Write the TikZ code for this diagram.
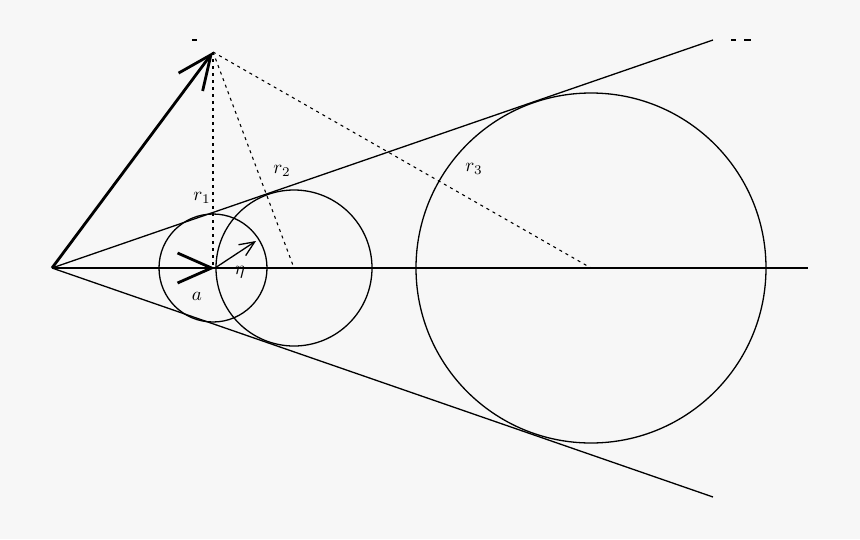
\documentclass[tikz,border=0pt]{standalone}
\usepackage{graphicx}
\usetikzlibrary{arrows.meta}
\tikzset{
  thinline/.style={line width=1.3pt},
  thickarrow/.style={line width=2.8pt,-{Straight Barb[length=34pt,width=30pt,line width=2.8pt]}},
  dotline/.style={line width=1.1pt,dash pattern=on 3pt off 4pt},
  mylabel/.style={inner sep=0pt}}
\newcommand{\biglab}[1]{\scalebox{1.9}{$#1$}}
\begin{document}
\begin{tikzpicture}[x=1pt,y=-1pt]
\fill[white!97!black] (0,0) rectangle (860,539);
\useasboundingbox (0,0) rectangle (860,539);
\coordinate (O) at (52,268);
\coordinate (P) at (213,52);
\coordinate (A) at (215,268);
\coordinate (C1) at (213,268);
\coordinate (C2) at (294,268);
\coordinate (C3) at (591,268);
\coordinate (E) at (808,268);
\coordinate (T1) at (713,40);
\coordinate (T2) at (713,497);
\coordinate (H) at (256,241);
\draw[thinline] (O) -- (E);
\draw[thinline] (O) -- (T1);
\draw[thinline] (O) -- (T2);
\draw[thinline] (C1) circle (54);
\draw[thinline] (C2) circle (78);
\draw[thinline] (C3) circle (175);
\draw[dotline] (P) -- (C1);
\draw[dotline] (P) -- (C2);
\draw[dotline] (P) -- (C3);
\draw[thickarrow] (O) -- (P);
\draw[thickarrow] (O) -- (A);
\draw[line width=1.3pt,-{Straight Barb[length=15pt,width=13pt,line width=1.3pt]}] (A) -- (H);
\node[mylabel] (r1) at (202,198) {\biglab{r_1}};
\node[mylabel] (r2) at (282,171) {\biglab{r_2}};
\node[mylabel] (r3) at (474,169) {\biglab{r_3}};
\node[mylabel] (a) at (197,296) {\biglab{a}};
\node[mylabel] (eta) at (240,272) {\biglab{\eta}};
\draw[line width=1.2pt] (192,40) -- (197,40);
\draw[line width=1.2pt] (731,40) -- (736,40);
\draw[line width=1.5pt] (744,40) -- (751,40);
\end{tikzpicture}
\end{document}
